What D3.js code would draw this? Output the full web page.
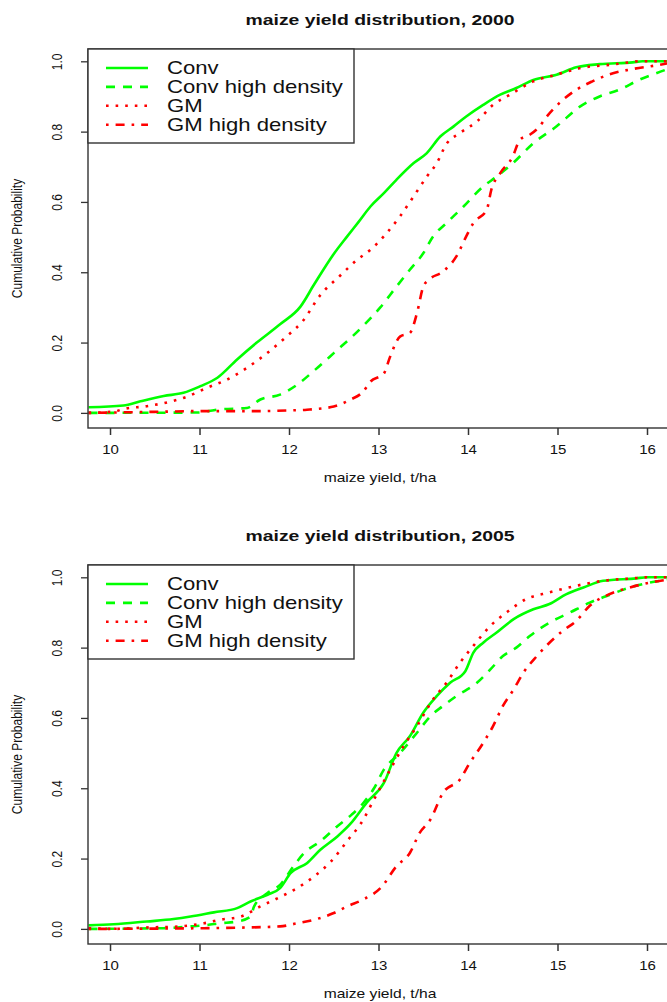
<!DOCTYPE html>
<html>
<head>
<meta charset="utf-8">
<script src="https://cdn.jsdelivr.net/npm/d3@7"></script>
<style>
  html, body { margin: 0; padding: 0; background: #fff; }
  svg { display: block; }
</style>
</head>
<body>
<svg id="chart" width="667" height="1002"></svg>
<script>
// Empirical cumulative distributions of maize yield (t/ha) — [yield, cumulative probability]
const seriesNames = ["Conv", "Conv high density", "GM", "GM high density"];
const seriesColors = ["#00ff00", "#00ff00", "#ff0000", "#ff0000"];
const panelTitles = ["maize yield distribution, 2000", "maize yield distribution, 2005"];
const xTicks = [10, 11, 12, 13, 14, 15, 16];
const yTicks = [0, 0.2, 0.4, 0.6, 0.8, 1.0];

const conv2000 = [[9.76,0.016],[10.15,0.021],[10.34,0.033],[10.6,0.048],[10.82,0.057],[11.01,0.076],[11.2,0.1],[11.42,0.152],[11.64,0.2],[11.9,0.252],[12.13,0.303],[12.28,0.365],[12.5,0.452],[12.65,0.502],[12.78,0.544],[12.91,0.587],[13.06,0.625],[13.2,0.663],[13.39,0.71],[13.54,0.739],[13.69,0.786],[13.84,0.815],[13.98,0.843],[14.17,0.876],[14.36,0.905],[14.54,0.924],[14.73,0.947],[14.99,0.962],[15.21,0.983],[15.47,0.992],[15.84,0.997],[15.95,1.0],[16.4,1.0]];
const convHD2000 = [[9.76,0.0],[10.97,0.001],[11.23,0.01],[11.53,0.014],[11.68,0.038],[11.9,0.052],[12.09,0.08],[12.28,0.12],[12.5,0.17],[12.8,0.24],[13.02,0.3],[13.2,0.359],[13.35,0.407],[13.5,0.454],[13.61,0.502],[13.76,0.54],[13.95,0.587],[14.17,0.644],[14.32,0.672],[14.5,0.71],[14.73,0.767],[14.99,0.815],[15.25,0.871],[15.47,0.9],[15.69,0.919],[15.91,0.947],[16.21,0.976],[16.4,0.995]];
const gm2000 = [[9.76,0.0],[10.05,0.004],[10.15,0.011],[10.41,0.019],[10.64,0.03],[10.86,0.046],[11.08,0.071],[11.31,0.095],[11.53,0.128],[11.76,0.171],[11.98,0.219],[12.15,0.26],[12.35,0.335],[12.57,0.39],[12.76,0.435],[12.91,0.464],[13.09,0.511],[13.24,0.559],[13.39,0.615],[13.54,0.672],[13.65,0.71],[13.76,0.765],[13.91,0.796],[14.1,0.829],[14.28,0.876],[14.47,0.905],[14.73,0.943],[14.99,0.962],[15.28,0.982],[15.58,0.99],[15.8,0.997],[15.9,1.0],[16.4,1.0]];
const gmHD2000 = [[9.76,0.0],[10.5,0.003],[11.0,0.005],[11.6,0.005],[12.0,0.007],[12.2,0.009],[12.5,0.018],[12.68,0.037],[12.83,0.061],[12.91,0.089],[13.06,0.112],[13.13,0.16],[13.24,0.217],[13.35,0.227],[13.43,0.284],[13.5,0.359],[13.56,0.378],[13.72,0.402],[13.87,0.445],[13.98,0.502],[14.06,0.54],[14.21,0.578],[14.26,0.634],[14.36,0.682],[14.5,0.729],[14.58,0.777],[14.69,0.791],[14.8,0.815],[14.88,0.843],[15.02,0.881],[15.21,0.919],[15.39,0.943],[15.62,0.966],[15.84,0.978],[16.14,0.99],[16.35,1.0]];

const conv2005 = [[9.76,0.01],[10.04,0.013],[10.41,0.021],[10.71,0.028],[10.9,0.035],[11.16,0.047],[11.42,0.059],[11.57,0.078],[11.76,0.097],[11.9,0.116],[12.02,0.159],[12.2,0.187],[12.35,0.225],[12.54,0.263],[12.69,0.3],[12.87,0.36],[13.06,0.415],[13.2,0.5],[13.35,0.548],[13.5,0.615],[13.65,0.662],[13.8,0.7],[13.97,0.733],[14.06,0.786],[14.17,0.814],[14.32,0.843],[14.51,0.881],[14.73,0.909],[14.91,0.924],[15.1,0.952],[15.29,0.971],[15.51,0.99],[15.88,0.997],[16.0,1.0],[16.4,1.0]];
const convHD2005 = [[9.76,0.0],[10.6,0.002],[10.9,0.007],[11.08,0.011],[11.23,0.016],[11.42,0.021],[11.57,0.035],[11.61,0.064],[11.76,0.102],[11.9,0.125],[12.05,0.178],[12.17,0.216],[12.35,0.249],[12.54,0.292],[12.7,0.325],[12.83,0.358],[12.95,0.4],[13.06,0.453],[13.24,0.5],[13.43,0.558],[13.58,0.605],[13.72,0.634],[13.87,0.662],[14.1,0.7],[14.25,0.738],[14.39,0.776],[14.54,0.8],[14.69,0.833],[14.91,0.871],[15.14,0.9],[15.36,0.928],[15.55,0.947],[15.81,0.971],[16.03,0.985],[16.22,0.993],[16.4,1.0]];
const gm2005 = [[9.76,0.002],[10.04,0.0],[10.41,0.004],[10.78,0.007],[11.05,0.016],[11.23,0.026],[11.46,0.035],[11.68,0.064],[11.87,0.087],[12.09,0.116],[12.28,0.149],[12.47,0.192],[12.65,0.25],[12.84,0.315],[12.91,0.349],[13.09,0.434],[13.28,0.52],[13.43,0.577],[13.61,0.653],[13.76,0.7],[13.91,0.757],[14.06,0.805],[14.25,0.862],[14.43,0.9],[14.65,0.938],[14.91,0.957],[15.21,0.976],[15.51,0.99],[15.84,0.997],[16.0,1.0],[16.4,1.0]];
const gmHD2005 = [[9.76,0.0],[11.05,0.002],[11.9,0.007],[12.09,0.016],[12.28,0.026],[12.5,0.045],[12.65,0.064],[12.84,0.085],[13.03,0.118],[13.2,0.178],[13.35,0.216],[13.46,0.273],[13.58,0.311],[13.72,0.387],[13.91,0.425],[14.02,0.472],[14.17,0.529],[14.28,0.577],[14.39,0.634],[14.51,0.681],[14.62,0.729],[14.77,0.776],[14.91,0.814],[15.06,0.848],[15.21,0.876],[15.36,0.919],[15.58,0.952],[15.81,0.971],[16.03,0.985],[16.22,0.993],[16.4,1.0]];

const panels = [
  { title: panelTitles[0], series: [conv2000, convHD2000, gm2000, gmHD2000] },
  { title: panelTitles[1], series: [conv2005, convHD2005, gm2005, gmHD2005] }
];

// line styles: solid, dashed, dotted, dot-dash
const dashes = [null, "9,8", "2.6,7", "2.6,7,9,7"];
const FONT = "Arial, 'Liberation Sans', Helvetica, sans-serif";
const SX = 1.25;           // glyphs are drawn wide
const PANEL_STEP = 516;

const svg = d3.select("#chart");

const x = d3.scaleLinear().domain([9.754, 16.4]).range([88, 682.8]);
const y = d3.scaleLinear().domain([-0.043, 1.035]).range([428, 49]);

const line = d3.line()
  .x(d => x(d[0]))
  .y(d => y(d[1]))
  .curve(d3.curveMonotoneX);

// wide text helper
function wideText(g, tx, ty, str, opts = {}) {
  return g.append("text")
    .attr("transform", `translate(${tx},${ty}) scale(${SX},1)` + (opts.rotate ? ` rotate(${opts.rotate})` : ""))
    .attr("text-anchor", opts.anchor || "middle")
    .attr("font-family", FONT)
    .attr("font-size", opts.size || 12)
    .attr("font-weight", opts.weight || "normal")
    .attr("fill", "#111")
    .text(str);
}

svg.append("defs").append("clipPath").attr("id", "plotClip")
  .append("rect")
  .attr("x", x.range()[0]).attr("y", y.range()[1])
  .attr("width", x.range()[1] - x.range()[0])
  .attr("height", y.range()[0] - y.range()[1]);

panels.forEach((panel, pi) => {
  const g = svg.append("g").attr("transform", `translate(0,${pi * PANEL_STEP})`);
  const [x0, x1] = x.range();
  const [yb, yt] = y.range();

  // title
  wideText(g, 380, 25, panel.title, { size: 15.5, weight: "bold" });

  // curves
  const lines = g.append("g").attr("clip-path", "url(#plotClip)");
  panel.series.forEach((data, si) => {
    lines.append("path")
      .datum(data)
      .attr("d", line)
      .attr("fill", "none")
      .attr("stroke", seriesColors[si])
      .attr("stroke-width", 2.6)
      .attr("stroke-dasharray", dashes[si])
      .attr("stroke-linecap", "butt")
      .attr("stroke-linejoin", "round");
  });

  // x axis
  const xa = g.append("g")
    .attr("transform", `translate(0,${yb})`)
    .call(d3.axisBottom(x).tickValues(xTicks).tickSize(7).tickFormat(d3.format("d")));
  xa.select(".domain").remove();
  xa.selectAll(".tick line").attr("stroke", "#333").attr("stroke-width", 1.5);
  xa.selectAll(".tick text")
    .attr("y", null).attr("dy", null)
    .attr("transform", `translate(0,26.3) scale(${SX},1)`)
    .attr("font-family", FONT).attr("font-size", 12).attr("fill", "#111");

  // y axis
  const ya = g.append("g")
    .attr("transform", `translate(${x0},0)`)
    .call(d3.axisLeft(y).tickValues(yTicks).tickSize(7).tickFormat(d3.format(".1f")));
  ya.select(".domain").remove();
  ya.selectAll(".tick line").attr("stroke", "#333").attr("stroke-width", 1.3);
  ya.selectAll(".tick text")
    .attr("x", null).attr("dy", null)
    .attr("text-anchor", "middle")
    .attr("transform", `translate(-26.5,0) scale(${SX},1) rotate(-90)`)
    .attr("font-family", FONT).attr("font-size", 12).attr("fill", "#111");

  // plot frame
  g.append("rect")
    .attr("x", x0).attr("y", yt)
    .attr("width", x1 - x0).attr("height", yb - yt)
    .attr("fill", "none").attr("stroke", "#333").attr("stroke-width", 1.4);

  // axis titles
  wideText(g, 380, 481.7, "maize yield, t/ha", { size: 12.5 });
  wideText(g, 21.5, (yt + yb) / 2, "Cumulative Probability", { size: 12, rotate: -90 });

  // legend
  const lg = g.append("g");
  lg.append("rect")
    .attr("x", x0).attr("y", yt)
    .attr("width", 354 - x0).attr("height", 143 - yt)
    .attr("fill", "#fff").attr("stroke", "#333").attr("stroke-width", 1.4);
  seriesNames.forEach((name, si) => {
    const cy = 68 + si * 18.9;
    lg.append("line")
      .attr("x1", 106).attr("x2", 148)
      .attr("y1", cy).attr("y2", cy)
      .attr("stroke", seriesColors[si])
      .attr("stroke-width", 2.6)
      .attr("stroke-dasharray", dashes[si]);
    wideText(lg, 167, cy + 6.4, name, { size: 17.7, anchor: "start" });
  });
});
</script>
</body>
</html>
